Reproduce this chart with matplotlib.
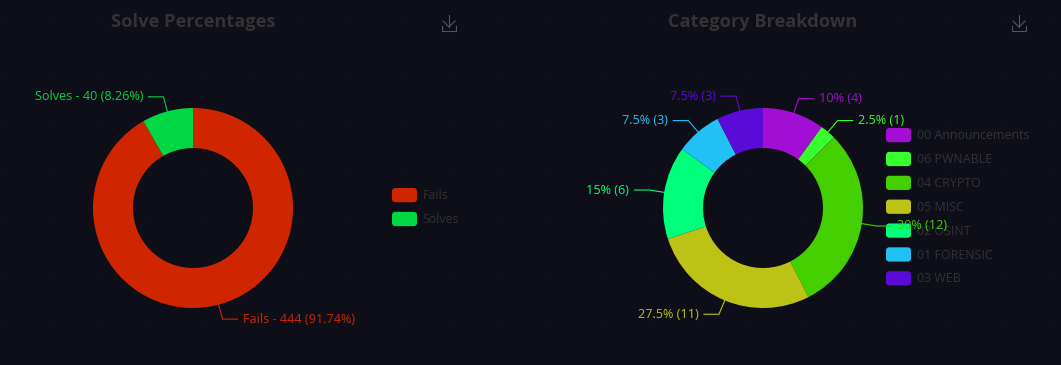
import numpy as np
import matplotlib
matplotlib.use("Agg")
import matplotlib.pyplot as plt
from matplotlib.legend_handler import HandlerPatch
from matplotlib.patches import FancyBboxPatch

solve_names = ["Fails", "Solves"]
solve_values = [444, 40]
solve_colors = ["#cf2600", "#00d742"]

cat_names = ["00 Announcements", "06 PWNABLE", "04 CRYPTO", "05 MISC", "02 OSINT", "01 FORENSIC", "03 WEB"]
cat_values = [4, 1, 12, 11, 6, 3, 3]
cat_colors = ["#a20ed4", "#38ff2e", "#44cf00", "#bdc217", "#00ff7a", "#22c1f5", "#5a0bd8"]

bg = "#0d0e17"
dim = "#333333"
W = 1061
H = 365
# 1px = 0.72pt at dpi 100
PX = 0.72

plt.rcParams["font.family"] = ["Open Sans", "DejaVu Sans"]
fig = plt.figure(figsize=(W / 100, H / 100), dpi=100, facecolor=bg)

# faint dot grid and the icons, in pixel coordinates
back = fig.add_axes([0, 0, 1, 1])
back.set_xlim(0, W)
back.set_ylim(H, 0)
back.axis("off")
dx, dy = np.meshgrid(np.arange(0, W, 50), np.arange(22, H, 50))
back.scatter(dx.ravel(), dy.ravel(), s=1.2, color="#1a1b24", linewidths=0)


class RoundHandle(HandlerPatch):
    def create_artists(self, legend, orig, xd, yd, width, height, fontsize, trans):
        p = FancyBboxPatch((-xd + 2, -yd + 2), width - 4, height - 4,
                           boxstyle="round,pad=2,rounding_size=2.5",
                           facecolor=orig.get_facecolor(), edgecolor="none", transform=trans)
        return [p]


def download_icon(ix):
    c = "#55555a"
    back.plot([ix, ix], [15, 27], color=c, lw=0.8, clip_on=False)
    back.plot([ix - 6, ix, ix + 6], [21, 27, 21], color=c, lw=0.8, clip_on=False)
    back.plot([ix - 7, ix - 7, ix + 7, ix + 7], [26, 31, 31, 26], color=c, lw=0.8, clip_on=False)


def donut(left, cx, names, values, colors, label_fmt, title, legend_x, legend_top):
    # axes is in pixel units with the pie centre at 0,0
    width = W / 2
    ax = fig.add_axes([left / W, 0, width / W, 1])
    ax.patch.set_alpha(0)
    wedges, _ = ax.pie(values, radius=100, startangle=90, counterclock=False, colors=colors,
                       wedgeprops=dict(width=40, linewidth=0), frame=False)
    ax.set_xlim(-(cx - left), left + width - cx)
    ax.set_ylim(-(H - 208), 208)
    ax.axis("off")

    total = sum(values)
    for w, name, v, c in zip(wedges, names, values, colors):
        a = np.deg2rad((w.theta1 + w.theta2) / 2)
        x0, y0 = 100 * np.cos(a), 100 * np.sin(a)
        x1, y1 = 115 * np.cos(a), 115 * np.sin(a)
        side = 1 if x1 > 0 else -1
        x2 = x1 + side * 15
        ax.plot([x0, x1, x2], [y0, y1, y1], color=c, lw=0.8, solid_joinstyle="miter", clip_on=False)
        ax.text(x2 + side * 5, y1, label_fmt(name, v, v / total * 100), color=c, fontsize=12.6 * PX,
                ha="left" if side > 0 else "right", va="center", zorder=5)

    fig.text(cx / W, 1 - 22 / H, title, color=dim, fontsize=18.3 * PX, fontweight="bold", ha="center", va="center")

    leg = ax.legend(wedges, names, handler_map={w: RoundHandle() for w in wedges},
                    loc="upper left", bbox_to_anchor=(legend_x / W, 1 - legend_top / H),
                    bbox_transform=fig.transFigure, frameon=False, fontsize=12.35 * PX,
                    borderpad=0, borderaxespad=0, handlelength=25 / 12.35, handleheight=1.4,
                    handletextpad=5.5 / 12.35, labelspacing=9.6 / 12.35, labelcolor=dim)
    leg.set_zorder(1)
    download_icon(cx + 256)
    return ax


def solve_label(name, v, pct):
    return f"{name} - {v} ({pct:.2f}%)"


def cat_label(name, v, pct):
    return f"{pct:g}% ({v})"


donut(0, 193, solve_names, solve_values, solve_colors, solve_label, "Solve Percentages", 392, 188)
donut(W / 2, 763, cat_names, cat_values, cat_colors, cat_label, "Category Breakdown", 886, 128)

fig.savefig("out.png", dpi=100, facecolor=bg)
